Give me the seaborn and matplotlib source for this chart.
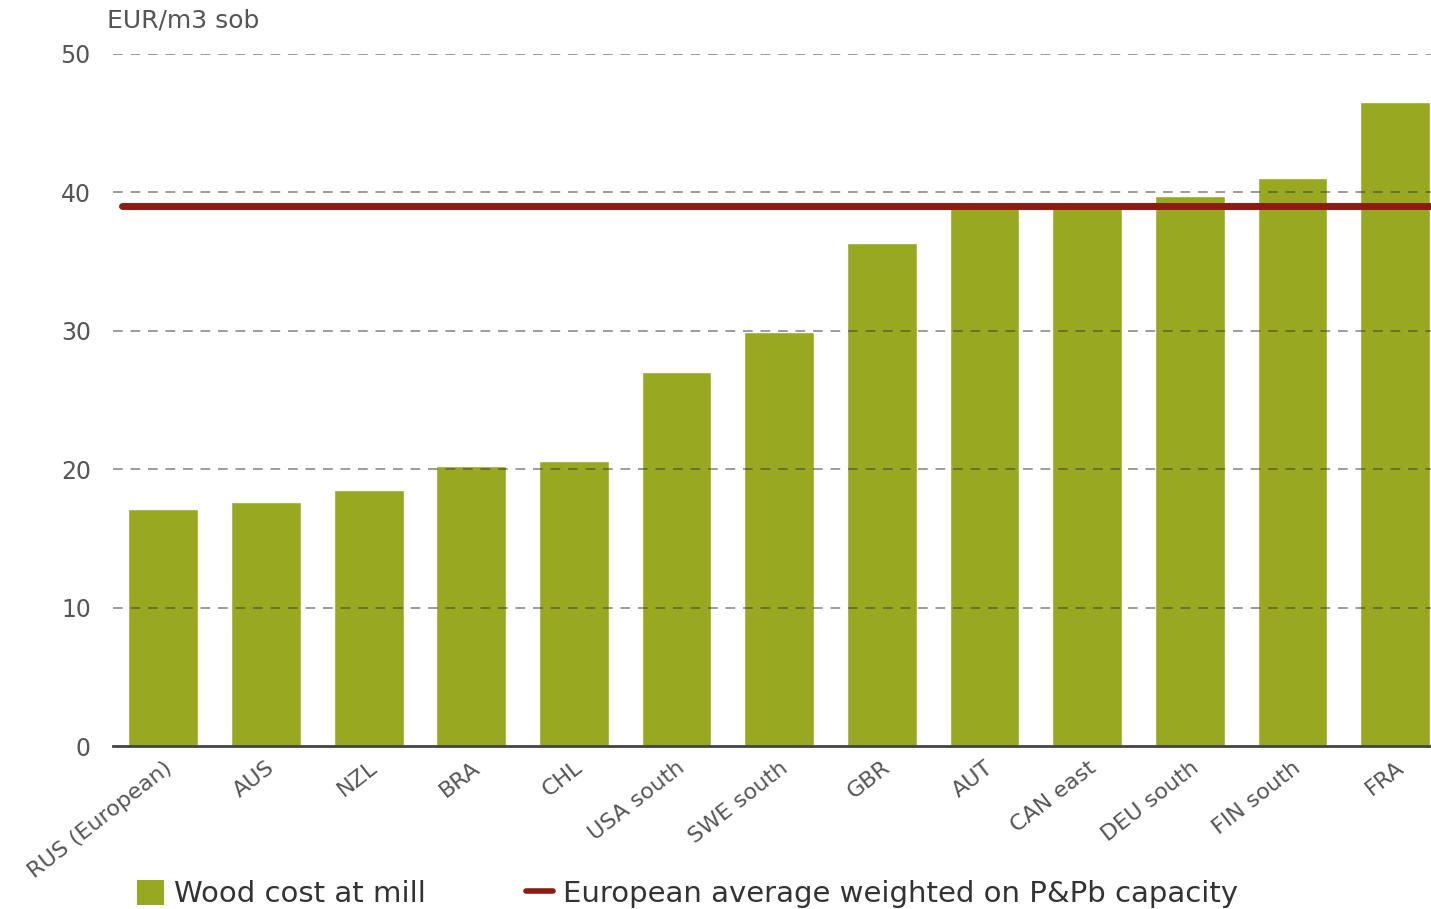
import matplotlib
matplotlib.use("Agg")
import matplotlib.pyplot as plt
import seaborn as sns
import pandas as pd
from matplotlib.patches import Patch
from matplotlib.lines import Line2D

# Données
pays = ["RUS (European)", "AUS", "NZL", "BRA", "CHL", "USA south", "SWE south",
        "GBR", "AUT", "CAN east", "DEU south", "FIN south", "FRA"]
cout_bois = [17.1, 17.6, 18.5, 20.2, 20.6, 27.0, 29.9, 36.3, 38.9, 38.9, 39.7, 41.0, 46.5]
moyenne_europe = 39.0
graduations = [0, 10, 20, 30, 40, 50]

vert = "#98a820"
rouge = "#8e1b12"
gris = "#555555"

sns.set_style("white")
plt.rcParams["font.family"] = ["DejaVu Sans"]

df = pd.DataFrame({"pays": pays, "cout": cout_bois})

fig = plt.figure(figsize=(14.31, 9.09), dpi=100)
ax = fig.add_axes([0.079, 0.179, 0.921, 0.762])

sns.barplot(data=df, x="pays", y="cout", color=vert, saturation=1, width=0.68, ax=ax)
for p in ax.patches:
    p.set_zorder(2)

# grille en pointillés, visible aussi par-dessus les barres
ax.hlines(graduations[1:], -0.49, 12.35, colors="#3a3a3a", alpha=0.5, lw=1.4,
          linestyles=(0, (5, 4)), zorder=10)

# ligne de la moyenne européenne
ax.axhline(moyenne_europe, xmin=0.007, xmax=1, color=rouge, lw=5, zorder=11)

ax.set_ylim(0, 50)
ax.set_xlim(-0.49, 12.35)
ax.set_yticks(graduations)
for s in ["top", "right", "left"]:
    ax.spines[s].set_visible(False)
ax.spines["bottom"].set_color("#444444")
ax.spines["bottom"].set_linewidth(2)
ax.spines["bottom"].set_zorder(12)

ax.tick_params(axis="y", length=0, labelsize=17, labelcolor=gris, pad=16)
ax.tick_params(axis="x", length=0, labelsize=16, labelcolor=gris, pad=8)
plt.setp(ax.get_xticklabels(), rotation=38, ha="right", rotation_mode="anchor")
ax.set_xlabel("")
ax.set_ylabel("")

fig.text(0.075, 0.977, "EUR/m3 sob", fontsize=18, color=gris, va="center", ha="left")

handles = [Patch(facecolor=vert, edgecolor="none", label="Wood cost at mill"),
           Line2D([0], [0], color=rouge, lw=4, label="European average weighted on P&Pb capacity")]
fig.legend(handles=handles, loc="lower left", bbox_to_anchor=(0.0776, -0.028), ncol=2,
           frameon=False, fontsize=21, handlelength=0.9, handleheight=0.95,
           columnspacing=3.45, handletextpad=0.35, labelcolor="#333333")

fig.savefig("out.png", dpi=100)
